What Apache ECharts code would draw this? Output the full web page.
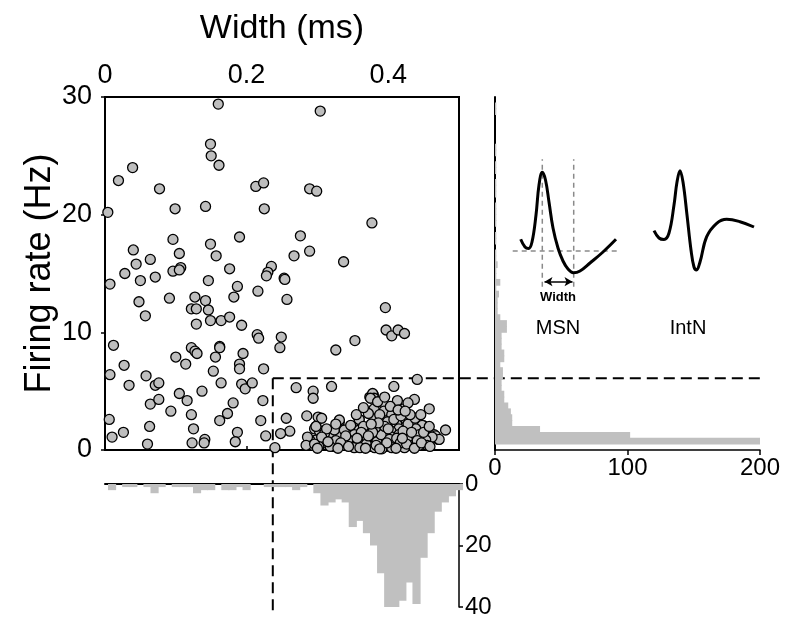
<!DOCTYPE html>
<html>
<head>
<meta charset="utf-8">
<script src="https://cdn.jsdelivr.net/npm/echarts@6/dist/echarts.min.js"></script>
<style>
  html, body { margin: 0; padding: 0; background: #fff; }
  #chart { width: 787px; height: 623px; }
</style>
</head>
<body>
<div id="chart"></div>
<script>
const FONT = '"Liberation Sans", Arial, sans-serif';

// cut-offs used to separate MSN from IntN
const CUT_WIDTH = 0.237;
const CUT_RATE = 6.1;

// scatter: [spike width (ms), firing rate (Hz)]
const sparseUnits = [
  [0.160,29.4],[0.304,28.8],[0.149,26.0],[0.150,25.0],[0.161,24.2],[0.039,24.0],[0.019,22.9],[0.077,22.2],
  [0.213,22.4],[0.224,22.7],[0.289,22.2],[0.299,22.0],[0.004,20.2],[0.099,20.5],[0.142,20.7],[0.225,20.5],
  [0.377,19.3],[0.096,17.9],[0.190,18.1],[0.276,18.2],[0.040,17.0],[0.064,16.2],[0.105,16.7],[0.149,17.5],
  [0.157,16.5],[0.289,16.9],[0.267,16.5],[0.044,15.8],[0.028,15.0],[0.050,14.4],[0.071,14.7],[0.096,15.2],
  [0.107,15.5],[0.105,15.3],[0.176,15.4],[0.235,15.6],[0.230,15.1],[0.228,14.8],[0.253,14.6],[0.254,14.5],
  [0.337,16.0],[0.007,14.1],[0.146,14.4],[0.187,13.9],[0.216,13.5],[0.048,12.6],[0.091,12.9],[0.127,13.0],
  [0.142,12.7],[0.182,13.0],[0.257,12.8],[0.057,11.4],[0.122,12.0],[0.129,12.0],[0.146,11.9],[0.149,11.0],
  [0.164,11.0],[0.176,11.3],[0.129,10.7],[0.193,10.6],[0.396,12.1],[0.397,10.2],[0.405,9.7],[0.414,10.2],
  [0.423,9.9],[0.215,9.8],[0.217,9.5],[0.249,9.6],[0.247,8.7],[0.353,9.3],[0.326,8.5],[0.012,8.9],
  [0.122,8.7],[0.127,8.4],[0.130,8.2],[0.162,8.8],[0.162,8.7],[0.156,7.9],[0.100,7.9],[0.195,8.2],
  [0.027,7.2],[0.114,7.3],[0.190,7.3],[0.190,6.9],[0.224,6.9],[0.007,6.4],[0.058,6.3],[0.153,6.7],
  [0.034,5.5],[0.071,5.5],[0.076,5.7],[0.164,5.7],[0.193,5.6],[0.198,5.2],[0.208,5.7],[0.137,5.0],
  [0.105,4.8],[0.116,4.2],[0.064,3.9],[0.076,4.3],[0.093,3.3],[0.122,3.0],[0.181,4.0],[0.173,3.1],
  [0.223,4.2],[0.006,2.6],[0.162,2.5],[0.220,2.5],[0.063,2.0],[0.125,1.8],[0.026,1.5],[0.010,1.1],
  [0.187,1.5],[0.227,1.2],[0.141,0.9],[0.140,0.6],[0.123,0.6],[0.060,0.5],[0.184,0.7],[0.240,0.2]
];

const clusterUnits = [
  [0.441,6.0],[0.408,5.4],[0.270,5.3],[0.294,5.0],[0.294,4.4],[0.320,5.4],[0.374,4.5],[0.379,4.7],
  [0.437,4.3],[0.458,3.5],[0.256,2.7],[0.285,2.9],[0.301,2.8],[0.306,2.7],[0.261,1.6],[0.248,1.4],
  [0.298,2.0],[0.331,2.4],[0.481,1.7],[0.471,0.9],[0.465,1.3],[0.449,2.1],[0.458,0.8],
  [0.378,4.8],[0.380,4.4],[0.375,4.4],[0.393,4.0],[0.413,4.2],[0.380,3.5],[0.394,3.3],[0.422,3.5],
  [0.405,3.0],[0.359,2.6],[0.380,2.6],[0.425,2.6],[0.412,2.2],[0.399,2.4],[0.448,2.1],[0.439,1.8],
  [0.467,1.2],[0.472,0.9],[0.462,1.1],[0.453,0.85],[0.425,1.7],[0.415,1.8],[0.404,1.6],[0.387,1.7],
  [0.373,1.6],[0.359,1.7],[0.345,1.6],[0.331,1.4],[0.317,1.1],[0.308,0.9],[0.298,0.85],[0.289,0.85],
  [0.286,1.1],[0.296,1.8],[0.303,1.6],[0.310,1.4],[0.324,1.7],[0.338,1.7],[0.352,1.3],[0.366,1.1],
  [0.380,1.1],[0.392,0.85],[0.406,1.1],[0.418,0.85],[0.430,1.1],[0.444,1.3],[0.455,0.4],[0.444,0.4],
  [0.432,0.6],[0.420,0.4],[0.406,0.6],[0.392,0.4],[0.378,0.6],[0.364,0.4],[0.350,0.6],[0.336,0.4],
  [0.322,0.3],[0.310,0.6],[0.293,0.4],[0.284,0.4],[0.331,2.55],[0.359,2.6],[0.298,2.0],
  [0.370,0.9],[0.384,0.7],[0.390,1.3],[0.397,0.3],[0.402,0.9],[0.410,0.5],[0.415,1.3],[0.423,0.2],
  [0.427,0.9],[0.435,0.4],[0.375,0.3],[0.382,1.9],[0.395,2.0],[0.408,2.6],[0.418,2.9],[0.428,2.2],
  [0.388,3.0],[0.372,3.1],[0.365,2.0],[0.357,0.8],[0.343,0.9],[0.347,2.1],[0.326,0.8],[0.313,1.8],
  [0.302,0.3],[0.318,0.3],[0.352,0.2],[0.362,1.5],[0.378,1.5],[0.386,2.3],[0.400,1.8],[0.412,1.0],
  [0.421,1.6],[0.433,1.5],[0.441,0.8],[0.450,1.5],[0.458,2.0],[0.438,2.7],[0.403,3.7],[0.385,4.1],
  [0.365,3.6],[0.395,4.5],[0.431,3.0],[0.446,3.0],[0.428,4.0],[0.376,2.2],[0.369,0.5],[0.391,0.1],
  [0.405,0.2],[0.417,0.6],[0.381,0.2],[0.360,0.2],[0.340,1.2],[0.333,0.6],[0.296,0.5],[0.306,1.1],
  [0.326,2.2],[0.355,3.0],[0.414,3.4],[0.424,3.3],[0.300,0.15],[0.315,0.7],[0.329,0.15],[0.344,0.3],
  [0.356,1.0],[0.368,0.15],[0.383,0.4],[0.398,0.6],[0.411,0.15],[0.426,0.5],[0.437,0.15],[0.447,0.6],
  [0.459,0.3],[0.388,0.1],[0.372,1.2],[0.420,1.0]
];

// width histogram: bin centres (ms) and counts
const widthBins = [
  0.00,0.01,0.02,0.03,0.04,0.05,0.06,0.07,0.08,0.09,0.10,0.11,0.12,0.13,0.14,0.15,0.16,
  0.17,0.18,0.19,0.20,0.21,0.22,0.23,0.24,0.25,0.26,0.27,0.28,0.29,0.30,0.31,0.32,0.33,
  0.34,0.35,0.36,0.37,0.38,0.39,0.40,0.41,0.42,0.43,0.44,0.45,0.46,0.47,0.48,0.49,0.50
];
const widthCounts = [
  0,2,0,1,1,0,1,3,1,0,1,1,1,3,2,2,0,
  2,2,1,2,0,0,1,1,1,1,2,1,0,3,7,6,5,
  6,14,12,16,20,29,40,41,38,32,39,24,16,9,6,4,2
];

// firing-rate histogram: 0.5 Hz bins (lower edge) and counts
const rateBins = [
  '0','0.5','1','1.5','2','2.5','3','3.5','4','4.5','5','5.5','6','6.5','7','7.5','8','8.5','9','9.5',
  '10','10.5','11','11.5','12','12.5','13','13.5','14','14.5','15','15.5','16','16.5','17','17.5','18','18.5','19','19.5',
  '20','20.5','21','21.5','22','22.5','23','23.5','24','24.5','25','25.5','26','26.5','27','27.5','28','28.5','29','29.5'
];
const rateCounts = [
  0,201,102,34,13,13,12,10,7,7,5,5,6,6,4,7,7,5,5,5,
  9,9,4,2,2,2,3,1,4,1,1,2,1,1,0,1,1,0,1,1,
  1,1,0,1,1,1,0,1,1,0,1,1,0,0,0,0,0,1,1,0
];

// example waveforms (inset units, arbitrary)
const msnWave = [
  [15.7,50.7],[20,43],[23.5,41.5],[27,48],[31,75],[34,105],[37.3,117.7],[40.5,110],[44,88],
  [48,62],[53,42],[58,29],[63,21],[68.3,17.3],[75,19],[85,27],[98,38],[111,50.7]
];
const intnWave = [
  [149,59.3],[154,52],[159,50.5],[164,57],[169,85],[172,108],[175,119.3],[178,108],[182,75],
  [186,40],[189,23],[191.5,20],[195,28],[201.7,53.3],[211.7,66.7],[221.7,70.7],[235,68.3],[249,63]
];
const msnGuides = [
  [[37.3,3.3],[37.3,130.7]],
  [[68.7,3.3],[68.7,130.7]],
  [[7.7,39],[114.3,39]]
];
const msnWidthArrow = [[39.5,8.3],[67.5,8.3]];

const axisStyle = { color: '#000', width: 1.5 };
const bigLabel = { fontSize: 27, color: '#000', fontFamily: FONT };
const smallLabel = { fontSize: 24, color: '#000', fontFamily: FONT };
const barStyle = { color: '#c0c0c0' };

const chart = echarts.init(document.getElementById('chart'), null, { renderer: 'canvas' });

chart.setOption({
  animation: false,
  backgroundColor: '#fff',
  textStyle: { fontFamily: FONT, color: '#000' },
  grid: [
    { left: 105, top: 97, width: 354, height: 353, show: true, borderColor: '#000', borderWidth: 2,
      backgroundColor: 'transparent', outerBoundsMode: 'none' },
    { left: 105, top: 484, width: 354, height: 123, outerBoundsMode: 'none' },
    { left: 495, top: 97, width: 265, height: 353, outerBoundsMode: 'none' },
    { left: 505, top: 155, width: 255, height: 135, outerBoundsMode: 'none' }
  ],
  xAxis: [
    { gridIndex: 0, type: 'value', position: 'top', min: 0, max: 0.5, interval: 0.2,
      name: 'Width (ms)', nameLocation: 'middle', nameGap: 51,
      nameTextStyle: { fontSize: 34, color: '#000', fontFamily: FONT },
      axisLine: { show: false },
      axisTick: { show: true, length: 4, lineStyle: axisStyle },
      axisLabel: Object.assign({ margin: 8, showMaxLabel: false }, bigLabel),
      splitLine: { show: false } },
    { gridIndex: 1, type: 'value', position: 'top', min: 0, max: 0.5,
      axisLine: { show: true, onZero: false, lineStyle: { color: '#000', width: 2 } },
      axisTick: { show: false }, axisLabel: { show: false }, splitLine: { show: false } },
    { gridIndex: 2, type: 'value', position: 'bottom', min: 0, max: 200, interval: 100,
      axisLine: { show: true, onZero: false, lineStyle: axisStyle },
      axisTick: { show: true, length: 5, lineStyle: axisStyle },
      axisLabel: Object.assign({ margin: 6 }, smallLabel),
      splitLine: { show: false } },
    { gridIndex: 3, type: 'value', min: 0, max: 255, show: false }
  ],
  yAxis: [
    { gridIndex: 0, type: 'value', min: 0, max: 30, interval: 10,
      name: 'Firing rate (Hz)', nameLocation: 'middle', nameGap: 47, nameRotate: 90,
      nameTextStyle: { fontSize: 36, color: '#000', fontFamily: FONT },
      axisLine: { show: false },
      axisTick: { show: true, length: 4, lineStyle: axisStyle },
      axisLabel: Object.assign({ margin: 13 }, bigLabel),
      splitLine: { show: false } },
    { gridIndex: 1, type: 'value', position: 'right', inverse: true, min: 0, max: 40, interval: 20,
      axisLine: { show: true, onZero: false, lineStyle: axisStyle },
      axisTick: { show: true, length: 4, lineStyle: axisStyle },
      axisLabel: Object.assign({ margin: 6 }, smallLabel),
      splitLine: { show: false } },
    { gridIndex: 2, type: 'category', data: rateBins,
      axisLine: { show: true, onZero: false, lineStyle: { color: '#000', width: 2 } },
      axisTick: { show: false }, axisLabel: { show: false }, splitLine: { show: false } },
    { gridIndex: 3, type: 'value', min: 0, max: 135, show: false }
  ],
  series: [
    { type: 'scatter', xAxisIndex: 0, yAxisIndex: 0, clip: false, symbolSize: 10,
      data: sparseUnits.concat(clusterUnits),
      itemStyle: { color: '#bebebe', borderColor: '#000', borderWidth: 1.3, opacity: 1 } },
    { type: 'bar', xAxisIndex: 1, yAxisIndex: 1, barWidth: '115%', barCategoryGap: '0%',
      data: widthBins.map((w, i) => [w, widthCounts[i]]),
      itemStyle: barStyle },
    { type: 'bar', xAxisIndex: 2, yAxisIndex: 2, barWidth: '115%', barCategoryGap: '0%',
      data: rateCounts, itemStyle: barStyle },
    ...msnGuides.map((seg) => ({
      type: 'line', xAxisIndex: 3, yAxisIndex: 3, data: seg, symbol: 'none',
      lineStyle: { color: '#8a8a8a', width: 1.5, type: [5, 4] }
    })),
    { type: 'line', xAxisIndex: 3, yAxisIndex: 3, data: msnWave, smooth: 0.4, symbol: 'none',
      lineStyle: { color: '#000', width: 3 },
      markLine: { silent: true, symbol: ['arrow', 'arrow'], symbolSize: [7, 8],
        label: { show: false }, lineStyle: { color: '#000', width: 1.5, type: 'solid' },
        data: [[{ coord: msnWidthArrow[0] }, { coord: msnWidthArrow[1] }]] } },
    { type: 'line', xAxisIndex: 3, yAxisIndex: 3, data: intnWave, smooth: 0.4, symbol: 'none',
      lineStyle: { color: '#000', width: 3 } }
  ]
});

// dashed cut-off lines span three grids, so place them from the axes
const [cx, cy] = chart.convertToPixel({ gridIndex: 0 }, [CUT_WIDTH, CUT_RATE]);
const yEnd = chart.convertToPixel({ yAxisIndex: 1 }, 40) + 5;
const xEnd = chart.convertToPixel({ xAxisIndex: 2 }, 200) + 2;
const dash = { stroke: '#000', lineWidth: 2, lineDash: [11, 6] };

chart.setOption({
  graphic: [
    { type: 'line', shape: { x1: cx, y1: cy, x2: cx, y2: yEnd }, style: dash, z: 1 },
    { type: 'line', shape: { x1: cx, y1: cy, x2: xEnd, y2: cy }, style: dash, z: 1 },
    { type: 'text', x: 558, y: 297, style: { text: 'Width', font: 'bold 13px ' + FONT,
      fill: '#000', align: 'center', verticalAlign: 'middle' } },
    { type: 'text', x: 558, y: 328, style: { text: 'MSN', font: '20px ' + FONT,
      fill: '#000', align: 'center', verticalAlign: 'middle' } },
    { type: 'text', x: 688, y: 328, style: { text: 'IntN', font: '20px ' + FONT,
      fill: '#000', align: 'center', verticalAlign: 'middle' } }
  ]
});
</script>
</body>
</html>
